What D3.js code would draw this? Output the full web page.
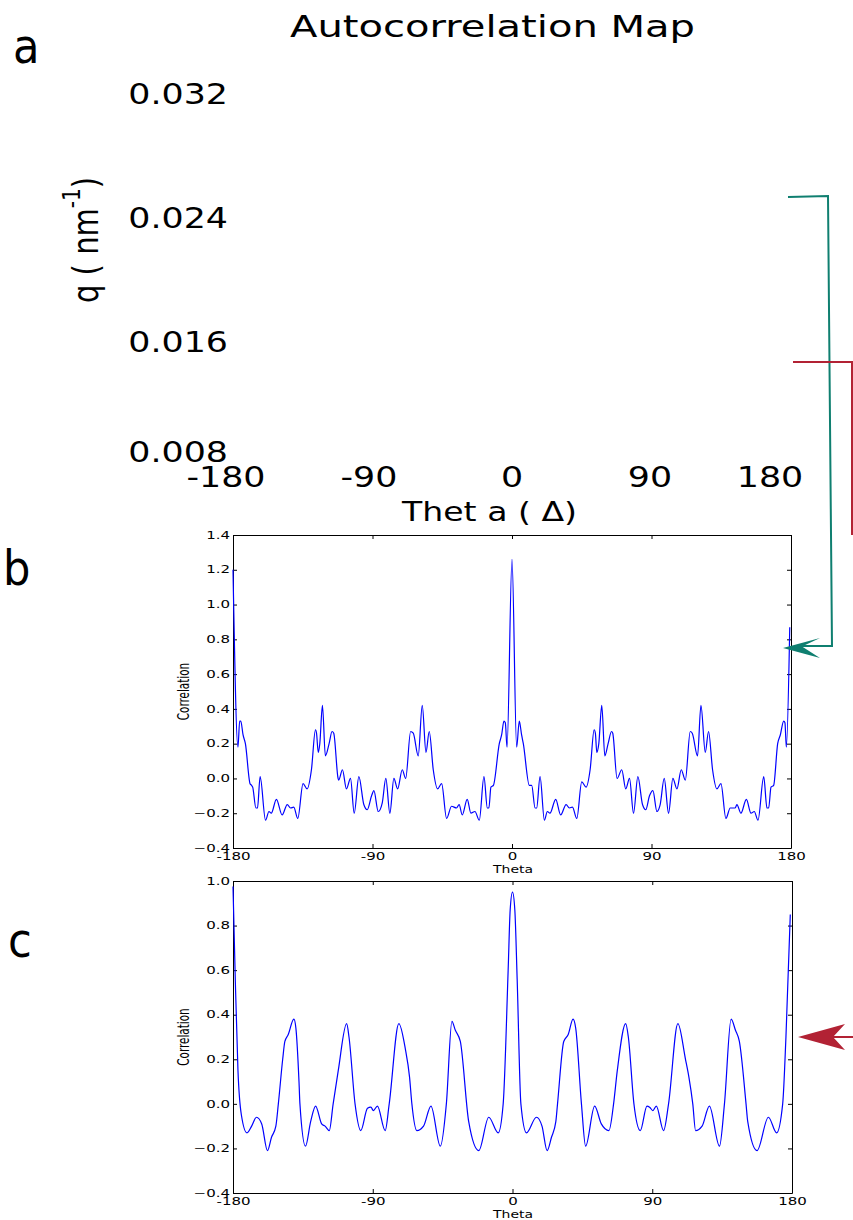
<!DOCTYPE html>
<html>
<head>
<meta charset="utf-8">
<script src="https://cdn.jsdelivr.net/npm/d3@7/dist/d3.min.js"></script>
<style>
  body { margin: 0; background: #fff; }
  svg { display: block; }
  text { font-family: "DejaVu Sans", sans-serif; fill: #000; }
</style>
</head>
<body>
<svg id="fig" width="853" height="1220"></svg>
<script>
// ---- data ----
const qTicks = [0.032, 0.024, 0.016, 0.008];
const thetaTicks = [-180, -90, 0, 90, 180];
const yTicksB = [-0.4, -0.2, 0.0, 0.2, 0.4, 0.6, 0.8, 1.0, 1.2, 1.4];
const yTicksC = [-0.4, -0.2, 0.0, 0.2, 0.4, 0.6, 0.8, 1.0];

// panel b : correlation vs theta
const thetaB = [-180, -176.8, -175.7, -175.0, -173.5, -172.0, -169.0, -168.0, -167.3, -165.2, -164.2, -162.5,
  -159.0, -156.8, -155.3, -152.0, -148.3, -145.0, -142.9, -140.8, -138.2, -134.8, -132.2, -129.4,
  -126.8, -126.1, -125.0, -124.0, -122.3, -120.4, -118.0, -116.1, -115.0, -112.2, -111.8, -109.4,
  -106.8, -104.2, -101.8, -98.8, -95.6, -93.4, -90.6, -89.1, -86.3, -83.7, -81.4, -78.8,
  -76.2, -73.8, -70.8, -68.6, -65.4, -63.7, -60.5, -57.9, -55.5, -53.4, -50.8, -48.0,
  -45.4, -42.2, -39.0, -35.8, -34.1, -32.1, -28.9, -26.5, -23.9, -21.1, -18.1, -15.9,
  -14.9, -13.6, -12.0, -8.2, -6.7, -5.2, -4.3, -3.2, 0, 3.0, 4.7, 6.2,
  7.3, 11.2, 12.7, 14.9, 15.9, 18.1, 20.9, 22.8, 24.5, 28.2, 31.4, 34.9,
  37.0, 39.0, 41.8, 45.0, 47.8, 50.4, 53.0, 53.8, 54.7, 56.0, 57.9, 59.9,
  62.0, 64.2, 65.0, 67.8, 70.8, 73.4, 75.8, 78.4, 81.2, 84.2, 86.3, 88.7,
  90.9, 93.5, 95.6, 98.2, 101.0, 103.8, 106.4, 109.2, 111.8, 115.0, 116.3, 119.7,
  121.9, 124.7, 126.8, 129.4, 132.2, 134.8, 138.0, 140.8, 144.0, 145.1, 147.7, 151.2,
  154.2, 156.3, 158.7, 162.4, 164.5, 165.6, 167.1, 168.8, 171.4, 173.1, 175.3, 176.1,
  177.0, 179.2];
const corrB = [1.20, 0.18, 0.33, 0.33, 0.25, 0.20, -0.03, -0.04, -0.05, -0.17, -0.17, 0.01,
  -0.24, -0.19, -0.20, -0.12, -0.21, -0.15, -0.17, -0.165, -0.23, -0.03, -0.06, 0.05,
  0.28, 0.26, 0.15, 0.20, 0.42, 0.13, 0.20, 0.27, 0.26, 0.00, -0.01, 0.05,
  -0.06, 0.00, -0.20, 0.01, -0.15, -0.18, -0.10, -0.07, -0.19, -0.14, 0.00, -0.20,
  0.00, -0.06, 0.05, 0.00, 0.27, 0.26, 0.13, 0.42, 0.15, 0.27, 0.05, -0.06,
  -0.03, -0.23, -0.16, -0.17, -0.15, -0.21, -0.12, -0.20, -0.19, -0.24, 0.01, -0.17,
  -0.17, -0.05, -0.04, 0.20, 0.25, 0.33, 0.32, 0.18, 1.26, 0.18, 0.33, 0.25,
  0.20, -0.04, -0.04, -0.17, -0.17, 0.01, -0.24, -0.19, -0.20, -0.12, -0.21, -0.15,
  -0.17, -0.165, -0.23, -0.02, -0.05, 0.05, 0.28, 0.26, 0.15, 0.20, 0.42, 0.13,
  0.20, 0.27, 0.26, 0.00, 0.05, -0.06, 0.00, -0.20, 0.01, -0.15, -0.18, -0.10,
  -0.07, -0.19, -0.15, 0.00, -0.20, 0.00, -0.06, 0.05, -0.01, 0.27, 0.26, 0.13,
  0.42, 0.15, 0.27, 0.05, -0.06, -0.03, -0.23, -0.17, -0.17, -0.15, -0.20, -0.12,
  -0.20, -0.19, -0.24, 0.01, -0.17, -0.17, -0.05, -0.04, 0.20, 0.25, 0.33, 0.32,
  0.18, 0.87];

// panel c : correlation vs theta
const thetaC = [-180, -178.5, -176.8, -174.6, -171.0, -168.0, -164.9, -161.5, -157.8, -155.2, -152.4, -150.8,
  -148.0, -146.6, -144.5, -140.8, -139.5, -137.5, -136.9, -133.3, -130.0, -126.8, -122.9, -120.7,
  -118.0, -115.5, -112.2, -106.8, -105.3, -101.4, -97.7, -93.4, -91.2, -89.6, -87.0, -82.0,
  -79.4, -73.2, -69.1, -66.3, -64.8, -61.6, -57.3, -52.5, -46.5, -42.6, -39.0, -36.8,
  -33.6, -28.2, -21.7, -15.3, -9.2, -6.0, -2.8, -1.5, 0, 1.5, 3.0, 5.4,
  9.0, 15.4, 19.0, 22.3, 25.1, 27.9, 29.0, 33.0, 35.8, 39.0, 40.7, 44.4,
  47.1, 52.9, 57.2, 62.1, 65.1, 67.5, 72.9, 74.6, 78.2, 82.3, 86.6, 88.3,
  90.4, 92.6, 97.3, 100.5, 106.5, 111.4, 113.6, 116.1, 117.9, 122.1, 126.8, 133.3,
  136.5, 140.8, 143.6, 146.1, 150.4, 151.5, 157.5, 164.8, 170.1, 174.0, 176.1, 178.9];
const corrC = [0.975, 0.55, 0.15, -0.05, -0.13, -0.10, -0.06, -0.09, -0.21, -0.15, -0.10, 0.00,
  0.20, 0.28, 0.31, 0.38, 0.34, 0.10, 0.00, -0.19, -0.08, -0.01, -0.09, -0.10,
  -0.12, 0.00, 0.15, 0.36, 0.30, 0.00, -0.12, -0.02, -0.015, -0.03, -0.01, -0.12,
  0.00, 0.36, 0.25, 0.12, 0.00, -0.12, -0.10, -0.01, -0.19, 0.00, 0.37, 0.33,
  0.28, -0.08, -0.21, -0.06, -0.13, 0.00, 0.60, 0.87, 0.95, 0.87, 0.56, 0.00,
  -0.13, -0.06, -0.10, -0.21, -0.15, -0.08, 0.00, 0.28, 0.31, 0.38, 0.34, 0.00,
  -0.19, -0.01, -0.09, -0.12, 0.00, 0.15, 0.36, 0.30, 0.00, -0.12, -0.01, -0.015,
  -0.03, -0.01, -0.12, 0.00, 0.36, 0.20, 0.12, 0.00, -0.12, -0.10, -0.01, -0.19,
  0.00, 0.38, 0.33, 0.28, 0.00, -0.08, -0.21, -0.06, -0.13, 0.00, 0.30, 0.85];

// arrow targets (correlation value the arrow points at)
const arrowB = 0.75;
const arrowC = 0.30;

const TEAL = "#0f7f70";
const RED = "#b22234";

const svg = d3.select("#fig");

// widen text the way the original figure was stretched
function stretch(sel, k) {
  sel.each(function () {
    const w = this.getComputedTextLength();
    d3.select(this).attr("textLength", w * k).attr("lengthAdjust", "spacingAndGlyphs");
  });
}

// panel letters
[["a", 13, 63], ["b", 3, 585], ["c", 8, 957]].forEach(([t, x, y]) => {
  svg.append("text").attr("x", x).attr("y", y).attr("font-size", 48).text(t).call(stretch, 0.9);
});

// ---- panel a (empty map, only labels) ----
const qPos = d3.scaleLinear().domain([0.008, 0.016, 0.032]).range([462, 352, 104]);
const tPos = d3.scaleLinear().domain([-180, 0, 90, 180]).range([226, 512, 650, 770]);

svg.append("text").attr("x", 492.5).attr("y", 37).attr("text-anchor", "middle")
  .attr("font-size", 30).text("Autocorrelation Map")
  .attr("textLength", 405).attr("lengthAdjust", "spacingAndGlyphs");

svg.selectAll(".qlab").data(qTicks).enter().append("text")
  .attr("x", 228).attr("y", d => qPos(d)).attr("text-anchor", "end")
  .attr("font-size", 29).text(d => d.toFixed(3)).call(stretch, 1.2);

svg.selectAll(".tlab").data(thetaTicks).enter().append("text")
  .attr("x", d => tPos(d)).attr("y", 487).attr("text-anchor", "middle")
  .attr("font-size", 29).text(d => String(d)).call(stretch, 1.2);

svg.append("text").attr("x", 489.5).attr("y", 521).attr("text-anchor", "middle")
  .attr("font-size", 27).text("Thet a ( \u0394)")
  .attr("textLength", 175).attr("lengthAdjust", "spacingAndGlyphs");

const yl = svg.append("text").attr("transform", "translate(98,240) scale(1.2,1) rotate(-90)")
  .attr("text-anchor", "middle").attr("font-size", 29);
yl.append("tspan").text("q ( nm");
yl.append("tspan").attr("font-size", 20).attr("dy", -15).text("-1");
yl.append("tspan").attr("dy", 15).text(")");

// ---- panels b and c ----
function panel(theta, corr, yTicks, top, bottom, right) {
  const x = d3.scaleLinear().domain([-180, 180]).range([233, right]);
  const y = d3.scaleLinear().domain([yTicks[0], yTicks[yTicks.length - 1]]).range([bottom, top]);
  const g = svg.append("g");

  g.append("g").attr("transform", `translate(0,${bottom})`)
    .call(d3.axisBottom(x).tickValues(thetaTicks).tickFormat(d => String(d))
      .tickSize(-4).tickSizeOuter(0).tickPadding(5));
  g.append("g").attr("transform", `translate(0,${top})`)
    .call(d3.axisTop(x).tickValues(thetaTicks).tickFormat("").tickSize(-4).tickSizeOuter(0));
  g.append("g").attr("transform", "translate(233,0)")
    .call(d3.axisLeft(y).tickValues(yTicks).tickFormat(d3.format(".1f"))
      .tickSize(-4).tickSizeOuter(0).tickPadding(3));
  g.append("g").attr("transform", `translate(${right},0)`)
    .call(d3.axisRight(y).tickValues(yTicks).tickFormat("").tickSize(-4).tickSizeOuter(0));

  g.selectAll(".tick text").attr("font-size", 10).attr("font-family", "DejaVu Sans").attr("fill", "#000")
    .call(stretch, 1.5);
  g.selectAll(".domain, .tick line").attr("stroke", "#000");

  g.append("path").datum(d3.zip(theta, corr))
    .attr("fill", "none").attr("stroke", "#0000ff").attr("stroke-width", 1.2)
    .attr("d", d3.line().x(d => x(d[0])).y(d => y(d[1])).curve(d3.curveMonotoneX));

  g.append("text").attr("transform", `translate(189,${(top + bottom) / 2}) scale(1.45,1) rotate(-90)`)
    .attr("text-anchor", "middle").attr("font-size", 10.4).text("Correlation");
  g.append("text").attr("x", 513).attr("y", bottom + 25).attr("text-anchor", "middle")
    .attr("font-size", 11).text("Theta").attr("textLength", 40).attr("lengthAdjust", "spacingAndGlyphs");

  return { x, y };
}

const pb = panel(thetaB, corrB, yTicksB, 535, 848, 791);
const pc = panel(thetaC, corrC, yTicksC, 881, 1193, 792);

// ---- annotation arrows ----
const tipB = [pb.x(180) - 8, pb.y(arrowB)];
svg.append("path")
  .attr("d", `M788,197 L828,196 L832,${tipB[1] - 2} L${tipB[0] + 18},${tipB[1] - 2}`)
  .attr("fill", "none").attr("stroke", TEAL).attr("stroke-width", 2);
svg.append("path")
  .attr("d", `M${tipB[0]},${tipB[1]} L${tipB[0] + 37},${tipB[1] - 10} L${tipB[0] + 19},${tipB[1] - 1.5} L${tipB[0] + 37},${tipB[1] + 10} Z`)
  .attr("fill", TEAL);

svg.append("path").attr("d", "M793,362 L852,362 L852,535")
  .attr("fill", "none").attr("stroke", RED).attr("stroke-width", 2);

const tipC = [pc.x(180) + 6, pc.y(arrowC)];
svg.append("path").attr("d", `M${tipC[0] + 34},${tipC[1]} L853,${tipC[1]}`)
  .attr("stroke", RED).attr("stroke-width", 2);
svg.append("path")
  .attr("d", `M${tipC[0]},${tipC[1]} L${tipC[0] + 47},${tipC[1] - 13} L${tipC[0] + 35},${tipC[1]} L${tipC[0] + 47},${tipC[1] + 13} Z`)
  .attr("fill", RED);
</script>
</body>
</html>
